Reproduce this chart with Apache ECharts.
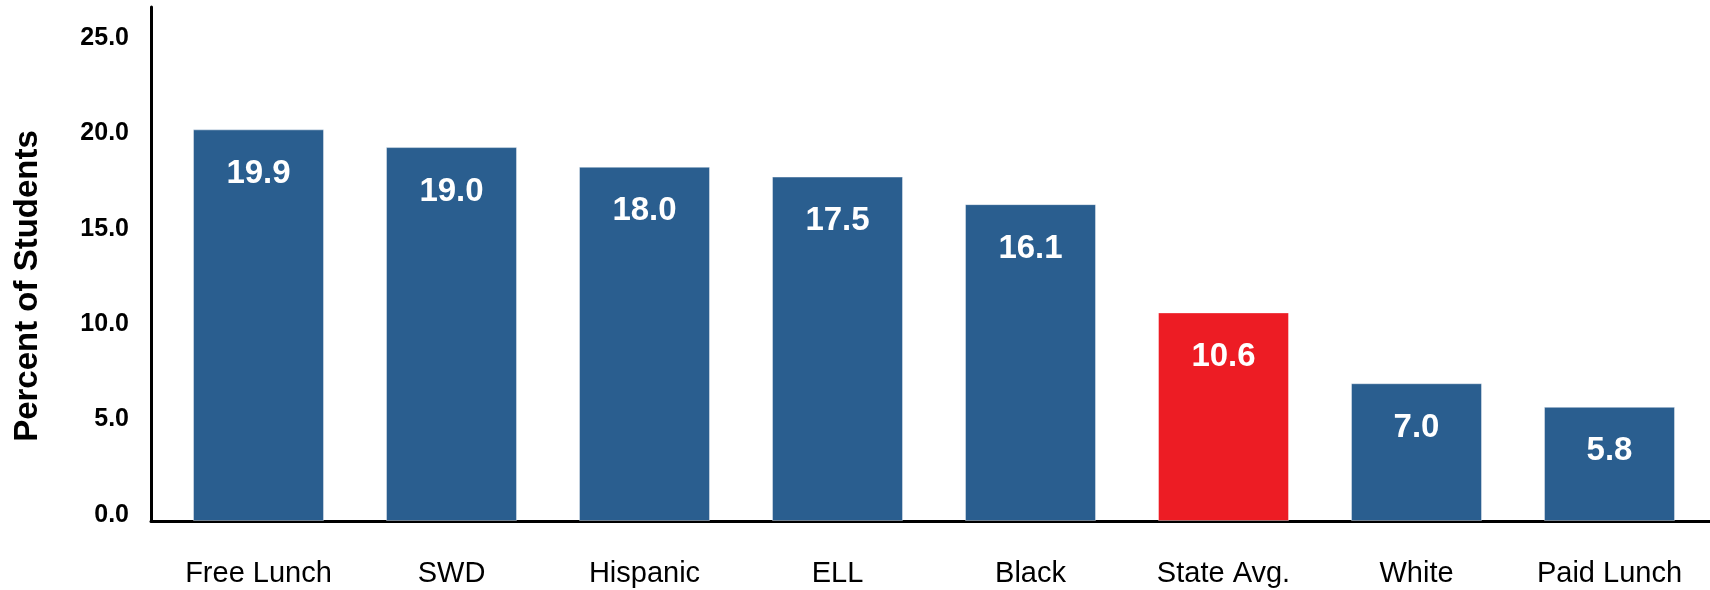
<!DOCTYPE html>
<html>
<head>
<meta charset="utf-8">
<script src="https://cdn.jsdelivr.net/npm/echarts@6/dist/echarts.min.js"></script>
<style>
html,body{margin:0;padding:0;background:#fff;}
#chart{width:1710px;height:590px;}
</style>
</head>
<body>
<div id="chart"></div>
<script>
const categories = ['Free Lunch', 'SWD', 'Hispanic', 'ELL', 'Black', 'State Avg.', 'White', 'Paid Lunch'];
const values = [19.9, 19.0, 18.0, 17.5, 16.1, 10.6, 7.0, 5.8];
const highlightCategory = 'State Avg.';
const yAxisTitle = 'Percent of Students';
const yMin = 0, yMax = 25, yStep = 5;

const FONT = "'Liberation Sans', Arial, sans-serif";
const BLUE = '#2A5E8F', RED = '#ED1C24';

const hiddenAxis = {
  axisLine: {show: false}, axisTick: {show: false}, axisLabel: {show: false}, splitLine: {show: false}
};

const chart = echarts.init(document.getElementById('chart'), null, {renderer: 'canvas'});
chart.setOption({
  animation: false,
  backgroundColor: '#ffffff',
  grid: [
    {left: 162, right: 4, top: 29, bottom: 69},   // bars
    {left: 151, right: 0, top: 7, bottom: 69},    // axis frame lines
    {left: 162, right: 4, top: 38, bottom: 75}    // tick label scale
  ],
  xAxis: [
    {
      type: 'category', gridIndex: 0, data: categories,
      axisLine: {show: false}, axisTick: {show: false},
      axisLabel: {color: '#000', fontFamily: FONT, fontSize: 29, margin: 38, interval: 0}
    },
    {
      type: 'value', gridIndex: 1, min: 0, max: 1,
      axisLine: {show: true, lineStyle: {color: '#000', width: 3}},
      axisTick: {show: false}, axisLabel: {show: false}, splitLine: {show: false}
    },
    Object.assign({type: 'category', gridIndex: 2, data: categories}, hiddenAxis)
  ],
  yAxis: [
    Object.assign({
      type: 'value', gridIndex: 0, min: yMin, max: yMax, interval: yStep,
      name: yAxisTitle, nameLocation: 'middle', nameGap: 118,
      nameTextStyle: {color: '#000', fontFamily: FONT, fontSize: 33, fontWeight: 'bold', padding: [0, 22, 0, 0]}
    }, hiddenAxis),
    {
      type: 'value', gridIndex: 1, min: 0, max: 1,
      axisLine: {show: true, lineStyle: {color: '#000', width: 3}},
      axisTick: {show: false}, axisLabel: {show: false}, splitLine: {show: false}
    },
    {
      type: 'value', gridIndex: 2, min: yMin, max: yMax, interval: yStep,
      axisLine: {show: false}, axisTick: {show: false}, splitLine: {show: false},
      axisLabel: {
        color: '#000', fontFamily: FONT, fontSize: 25, fontWeight: 'bold', margin: 33,
        formatter: v => v.toFixed(1)
      }
    }
  ],
  series: [{
    type: 'bar', xAxisIndex: 0, yAxisIndex: 0,
    data: values,
    barWidth: 131,
    itemStyle: {
      color: p => categories[p.dataIndex] === highlightCategory ? RED : BLUE,
      borderColor: 'rgba(255,255,255,0.4)', borderWidth: 1
    },
    label: {
      show: true, position: 'insideTop', distance: 28,
      color: '#fff', fontFamily: FONT, fontSize: 33, fontWeight: 'bold',
      formatter: p => p.value.toFixed(1)
    }
  }]
});
</script>
</body>
</html>
